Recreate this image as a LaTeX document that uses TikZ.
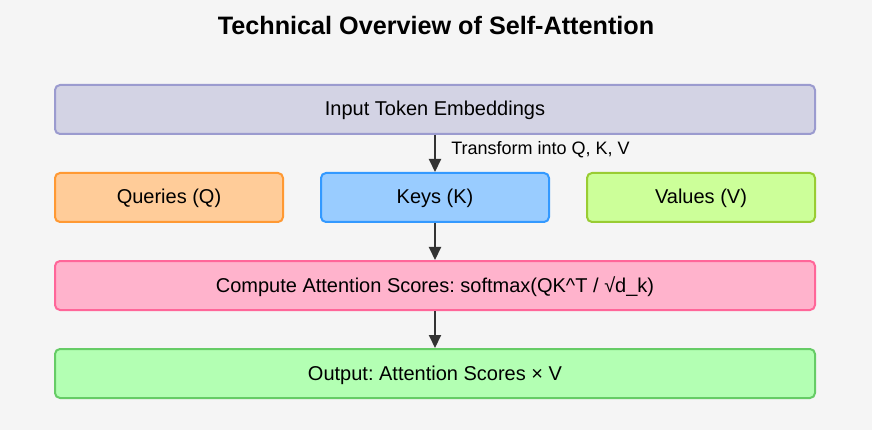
\documentclass[tikz,border=0pt]{standalone}
\usepackage{fontspec}
\setmainfont{Liberation Sans}
\usetikzlibrary{arrows.meta}
\frenchspacing

\definecolor{bgcol}{HTML}{F5F5F5}
\definecolor{inpfill}{HTML}{D3D3E4}
\definecolor{inpline}{HTML}{9B9BCF}
\definecolor{qfill}{HTML}{FFCC99}
\definecolor{qline}{HTML}{FF9933}
\definecolor{kfill}{HTML}{99CCFF}
\definecolor{kline}{HTML}{3399FF}
\definecolor{vfill}{HTML}{CCFF99}
\definecolor{vline}{HTML}{99CC33}
\definecolor{scfill}{HTML}{FFB3CC}
\definecolor{scline}{HTML}{FF6699}
\definecolor{outfill}{HTML}{B3FFB3}
\definecolor{outline}{HTML}{66CC66}
\definecolor{arrcol}{HTML}{333333}

\tikzset{
  blockbox/.style={rectangle, rounded corners=5pt, line width=2pt, align=center,
    font=\fontsize{20}{23}\selectfont, inner sep=0pt, text depth=0pt, text height=13pt},
  widebox/.style={blockbox, minimum width=760pt, minimum height=49pt},
  smallbox/.style={blockbox, minimum width=228pt, minimum height=49pt},
  flow/.style={draw=arrcol, line width=2pt, -{Triangle[length=13pt,width=12pt]}}
}

\begin{document}
\begin{tikzpicture}[x=1pt, y=-1pt]
  \fill[bgcol] (0,0) rectangle (872,430);
  \useasboundingbox (0,0) rectangle (872,430);
  \node (title) at (436,25) {\fontsize{25.2}{29}\selectfont\bfseries Technical Overview of Self-Attention};
  % boxes
  \node[widebox, fill=inpfill, draw=inpline] (embed) at (435,109.5) {Input Token Embeddings};
  \node[smallbox, fill=qfill, draw=qline] (queries) at (169,197.5) {Queries (Q)};
  \node[smallbox, fill=kfill, draw=kline] (keys) at (435,197.5) {Keys (K)};
  \node[smallbox, fill=vfill, draw=vline] (values) at (701,197.5) {Values (V)};
  \node[widebox, fill=scfill, draw=scline] (scores) at (435,285.5) {Compute Attention Scores: softmax(QK\^{}T / √d\_k)};
  \node[widebox, fill=outfill, draw=outline] (output) at (435,373.5) {Output: Attention Scores × V};
  % arrows
  \draw[flow] (embed) -- (keys) node[midway, right=12pt, yshift=4pt, font=\fontsize{18}{21}\selectfont] {Transform into Q, K, V};
  \draw[flow] (keys) -- (scores);
  \draw[flow] (scores) -- (output);
\end{tikzpicture}
\end{document}
